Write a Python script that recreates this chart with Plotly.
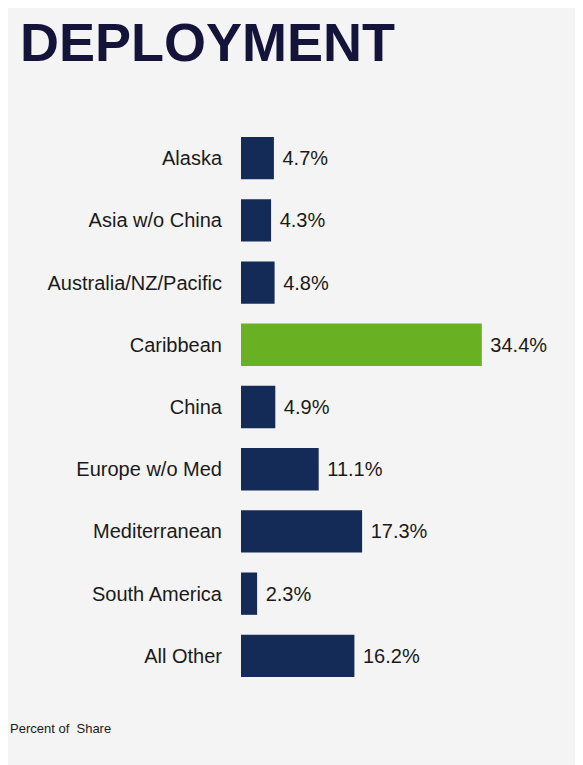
import plotly.graph_objects as go

regions = ["Alaska", "Asia w/o China", "Australia/NZ/Pacific", "Caribbean", "China",
           "Europe w/o Med", "Mediterranean", "South America", "All Other"]
shares = [4.7, 4.3, 4.8, 34.4, 4.9, 11.1, 17.3, 2.3, 16.2]
labels = [f" {v}%" for v in shares]
colors = ["#6ab023" if r == "Caribbean" else "#142b57" for r in regions]

fig = go.Figure(go.Bar(
    x=shares, y=regions, orientation="h",
    marker=dict(color=colors, line=dict(width=0)),
    text=labels, textposition="outside", cliponaxis=False,
    textfont=dict(family="Arial, Liberation Sans", size=20, color="#1a1a1a"),
))

fig.update_layout(
    width=583, height=765,
    margin=dict(l=233, r=0, t=119, b=86),
    paper_bgcolor="#f4f4f4", plot_bgcolor="rgba(0,0,0,0)",
    bargap=0.32, showlegend=False,
    font=dict(family="Arial, Liberation Sans", size=20, color="#1a1a1a"),
    xaxis=dict(range=[0, 50], visible=False),
    yaxis=dict(autorange="reversed", showgrid=False, showline=False, ticks="",
               ticklabelstandoff=18, tickfont=dict(size=20, color="#1a1a1a")),
    annotations=[
        dict(text="<b>DEPLOYMENT</b>", xref="paper", yref="paper", x=-233/350, y=1,
             yshift=117, xanchor="left", yanchor="top", showarrow=False,
             xshift=10, font=dict(size=54, color="#14143a", family="Arial, Liberation Sans")),
        dict(text="Percent of  Share", xref="paper", yref="paper", x=-233/350, y=0,
             xanchor="left", yanchor="top", xshift=0, yshift=-32, showarrow=False,
             font=dict(size=13, color="#1a1a1a")),
    ],
)

fig.write_html("out.html")
